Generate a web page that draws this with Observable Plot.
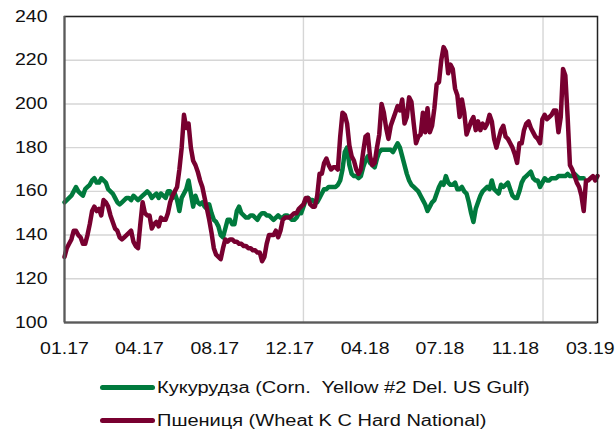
<!DOCTYPE html>
<html><head><meta charset="utf-8">
<script src="https://cdn.jsdelivr.net/npm/d3@7"></script>
<script src="https://cdn.jsdelivr.net/npm/@observablehq/plot@0.6"></script>
<style>
body{margin:0;background:#fff;font-family:"Liberation Sans",Arial,sans-serif;}
#chart svg{display:block;}
#legend{width:615px;padding-top:6px;}
.row{height:33px;display:flex;align-items:center;}
.sw{width:55px;height:5px;border-radius:3px;margin-left:100px;flex:none;}
.lab{font-size:16px;color:#111;display:inline-block;transform:scaleX(1.25);transform-origin:left center;margin-left:2px;white-space:pre;}
</style></head><body><div id="chart"></div><div id="legend"></div>
<script>
// observations every 3.5 days starting on this date
const startDate = "2017-01-02";
const stepHours = 84;
const seriesNames = ["Кукурудза (Corn.  Yellow #2 Del. US Gulf)", "Пшениця (Wheat K C Hard National)"];
const seriesColors = ["#007a3d", "#780030"];
const corn = [
155,156,157,158,160,162,160,159,158,161,
162,163,165,166,164,164,166,165,164,161,
160,159,157,155,154,155,156,157,157,156,
158,157,156,157,158,159,160,159,157,158,
159,157,159,158,157,160,160,157,159,156,
151,157,159,161,165,159,153,158,155,154,
155,153,152,154,150,147,146,144,140,139,
143,147,147,145,145,151,153,150,149,148,
148,149,149,148,147,149,150,150,149,149,
148,147,148,149,148,148,149,149,148,147,
147,148,150,150,153,156,157,156,156,155,
155,157,159,161,161,162,162,162,162,163,
165,170,178,180,172,168,167,167,166,167,
171,174,176,173,172,171,175,178,179,179,
179,179,179,178,180,182,180,176,172,168,
165,163,162,161,160,158,156,154,151,153,
155,156,159,162,164,163,167,164,163,163,
164,161,161,162,160,159,155,150,146,152,
155,158,160,161,162,161,165,161,160,159,
163,162,163,164,161,158,157,157,160,164,
166,167,168,169,166,165,165,162,164,166,
165,165,166,166,166,167,167,167,167,168,
167,167,168,167,166,166,166];
const wheat = [
130,134,136,138,142,142,140,139,136,136,
140,145,151,153,151,152,149,156,155,153,
149,146,143,142,139,138,139,140,141,142,
137,135,134,145,155,150,149,149,143,145,
146,144,148,147,147,150,155,158,160,162,
170,180,195,189,191,180,174,172,169,165,
162,157,152,147,141,134,131,130,129,134,
138,137,138,138,137,137,136,136,135,135,
134,134,133,133,132,132,128,130,136,140,
140,140,142,139,142,147,148,148,148,149,
150,150,152,153,154,157,157,154,153,153,
158,168,168,173,175,172,170,171,171,170,
185,196,195,191,181,176,174,170,168,170,
178,185,186,176,172,173,180,186,200,196,
189,184,190,193,196,199,197,202,191,194,
203,201,191,182,185,186,196,187,198,187,
190,198,209,210,220,226,224,214,218,216,
207,204,194,202,196,186,189,192,194,188,
192,188,191,189,191,195,192,184,180,184,
188,190,185,184,182,180,177,173,182,182,
188,191,192,189,187,185,184,182,193,195,
193,194,195,197,197,187,194,216,213,194,
172,170,167,164,162,158,151,165,165,166,
167,165,167];
const tickDates = ["2017-01-02","2017-04-26","2017-08-19","2017-12-11","2018-04-05","2018-07-28","2018-11-20","2019-03-14"];
const tickLabels = ["01.17","04.17","08.17","12.17","04.18","07.18","11.18","03.19"];
const yearStarts = ["2018-01-01","2019-01-01"];
const yTicks = [100,120,140,160,180,200,220,240];

const start = new Date(startDate + "T00:00:00Z");
const toRows = (arr) => arr.map((v, i) => ({date: d3.utcHour.offset(start, stepHours * i), value: v}));
const cornRows = toRows(corn);
const wheatRows = toRows(wheat);
const end = wheatRows[wheatRows.length - 1].date;
const tDates = tickDates.map(s => new Date(s + "T00:00:00Z"));
const labelMap = new Map(tDates.map((d, i) => [+d, tickLabels[i]]));
const yDates = yearStarts.map(s => new Date(s + "T00:00:00Z"));

const chart = Plot.plot({
  width: 615, height: 365,
  marginLeft: 64, marginRight: 18, marginTop: 16, marginBottom: 43,
  style: {fontFamily: '"Liberation Sans", Arial, sans-serif', fontSize: "16px", color: "#111", background: "#fff"},
  x: {type: "utc", domain: [start, end], label: null},
  y: {domain: [100, 240], label: null},
  marks: [
    Plot.gridY(yTicks, {stroke: "#d6d6d6", strokeOpacity: 1, strokeWidth: 1.4}),
    Plot.gridX(yDates, {stroke: "#d6d6d6", strokeOpacity: 1, strokeWidth: 1.4}),
    Plot.lineY(cornRows, {x: "date", y: "value", stroke: seriesColors[0], strokeWidth: 4.5, strokeLinejoin: "round", strokeLinecap: "round"}),
    Plot.lineY(wheatRows, {x: "date", y: "value", stroke: seriesColors[1], strokeWidth: 4.5, strokeLinejoin: "round", strokeLinecap: "round"}),
    Plot.frame({stroke: "#222", strokeWidth: 1.5}),
    Plot.ruleX([start], {stroke: "#5a5a5a", strokeWidth: 2}),
    Plot.ruleY([100], {stroke: "#5a5a5a", strokeWidth: 2}),
    Plot.axisY({ticks: yTicks, tickSize: 0, tickPadding: 17, fontSize: 16, label: null}),
    Plot.axisX({ticks: tDates, tickSize: 0, tickPadding: 20, fontSize: 16, label: null, tickFormat: d => labelMap.get(+d)})
  ]
});
document.getElementById("chart").appendChild(chart);

// horizontally stretch text as in the reference
d3.select(chart).selectAll("text").each(function() {
  const t = d3.select(this);
  const tr = t.attr("transform");
  if (tr) t.attr("transform", tr + " scale(1.22,1)");
  else {
    const x = +t.attr("x") || 0, y = +t.attr("y") || 0;
    t.attr("x", null).attr("y", null).attr("transform", `translate(${x},${y}) scale(1.22,1)`);
  }
});

const legend = d3.select("#legend");
seriesNames.forEach((name, i) => {
  const row = legend.append("div").attr("class", "row");
  row.append("div").attr("class", "sw").style("background", seriesColors[i]);
  row.append("span").attr("class", "lab").text(name);
});
</script></body></html>
